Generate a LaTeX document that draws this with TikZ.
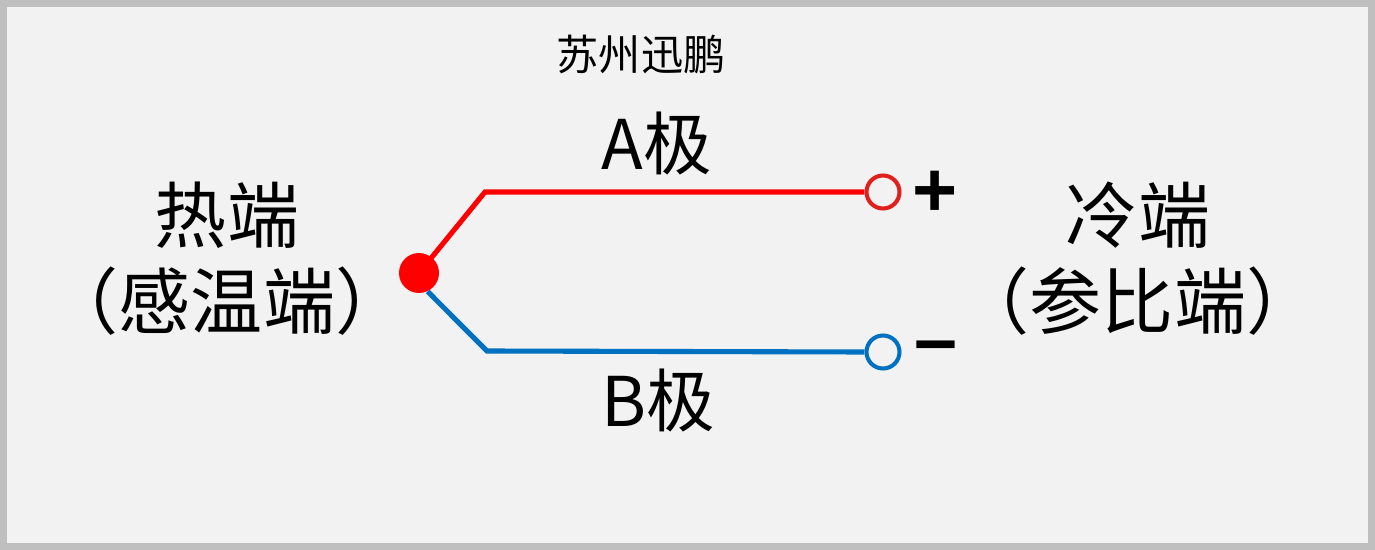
\documentclass[tikz,border=0pt]{standalone}
\usepackage{fontspec}
\newfontfamily\cjk{Noto Sans CJK SC}
\newfontfamily\latinsans{Liberation Sans}
\definecolor{bg}{HTML}{F2F2F2}
\definecolor{frame}{HTML}{BFBFBF}
\definecolor{hotred}{HTML}{FF0000}
\definecolor{termred}{HTML}{E0201B}
\definecolor{wireblue}{HTML}{0070C0}
\begin{document}
\begin{tikzpicture}[x=0.02cm,y=-0.02cm,
  bigtext/.style={font=\cjk\fontsize{41}{49}\selectfont, align=center, inner sep=0pt},
  poletext/.style={font=\cjk\fontsize{39}{44}\selectfont, inner sep=0pt},
  signtext/.style={font=\latinsans\bfseries\fontsize{44}{50}\selectfont, inner sep=0pt},
  wire/.style={line width=2.9pt, line join=miter},
  terminal/.style={circle, draw, line width=2.3pt, fill=bg, minimum size=0.66cm, inner sep=0pt}]
\fill[frame] (0,0) rectangle (1375,550);
\fill[bg] (7,7) rectangle (1368,543);
\useasboundingbox (0,0) rectangle (1375,550);

% junction and terminals
\node[circle, minimum size=0.8cm, inner sep=0pt] (j) at (419,273) {};
\coordinate (ra) at (485,192);
\coordinate (ba) at (487,351);
\node[terminal, draw=termred] (rt) at (883,192) {};
\node[terminal, draw=wireblue] (bt) at (883,352) {};

\draw[wire, hotred] (j.center) -- (ra) -- (rt.west);
\fill[hotred] (j.center) circle (0.4cm);
\draw[wire, wireblue] (j.-65) -- (ba) -- (bt.west);

% texts
\node[font=\cjk\fontsize{24}{28}\selectfont, inner sep=0pt] (brand) at (641,55) {苏州迅鹏};
\node[poletext] (A) at (657,143) {A极};
\node[poletext] (B) at (658,400) {B极};
\node[signtext] (plus) at (935,194) {+};
\node[signtext] (minus) at (936,353) {–};
\node[bigtext] (hot) at (227,259) {热端\\（感温端）};
\node[bigtext] (cold) at (1138,259) {冷端\\（参比端）};
\end{tikzpicture}
\end{document}
